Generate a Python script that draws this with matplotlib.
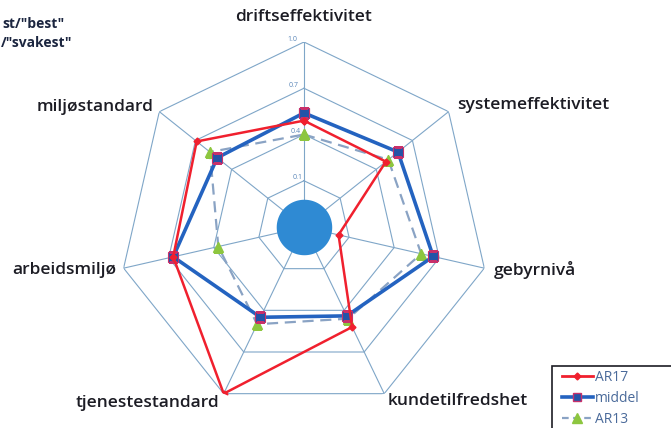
import numpy as np
import matplotlib
matplotlib.use('Agg')
import matplotlib.pyplot as plt
from matplotlib.lines import Line2D
from matplotlib.patches import Rectangle

# -----------------------------
# Data
# -----------------------------
categories = ['driftseffektivitet', 'systemeffektivitet', 'gebyrnivå',
              'kundetilfredshet', 'tjenestestandard', 'arbeidsmiljø',
              'miljøstandard']
ar17 = [0.49, 0.48, 0.03, 0.52, 1.00, 0.67, 0.69]
middel = [0.54, 0.58, 0.66, 0.44, 0.45, 0.67, 0.52]
ar13 = [0.40, 0.50, 0.58, 0.46, 0.50, 0.37, 0.58]
ring_values = [0.1, 0.4, 0.7, 1.0]
ring_labels = ['0.1', '0.4', '0.7', '1.0']
r_min = -0.2

# -----------------------------
# Figure
# -----------------------------
plt.rcParams['font.family'] = ['Open Sans', 'DejaVu Sans']
fig = plt.figure(figsize=(6.71, 4.28), dpi=100)
ax = fig.add_axes([0.1773, 0.0374, 0.5514, 0.8645], projection='polar')
ax.set_theta_zero_location('N')
ax.set_theta_direction(-1)
ax.set_ylim(r_min, 1.0)
ax.grid(False)
ax.spines['polar'].set_visible(False)
ax.set_xticks([])
ax.set_yticks([])
ax.patch.set_alpha(0)

n = len(categories)
angles = np.linspace(0, 2 * np.pi, n, endpoint=False)
closed = np.append(angles, angles[0])

grid_col = '#7fa6c8'
for rv in ring_values:
    ax.plot(closed, [rv] * (n + 1), color=grid_col, lw=0.8, zorder=1)
for a in angles:
    ax.plot([a, a], [r_min, 1.0], color=grid_col, lw=0.8, zorder=1)

for rv, lab in zip(ring_values, ring_labels):
    ax.text(-0.035, rv + 0.02, lab, fontsize=5, color='#5a86b8',
            ha='right', va='center')

# center disc
th = np.linspace(0, 2 * np.pi, 200)
ax.fill_between(th, r_min, -0.02, color='#2f8ad3', zorder=2, lw=0)


def close(v):
    return list(v) + [v[0]]


ax.plot(closed, close(ar13), color='#8aa3c4', lw=1.6, ls=(0, (5, 3)),
        marker='^', markersize=7, markerfacecolor='#8dc63f',
        markeredgecolor='#8dc63f', zorder=3)
ax.plot(closed, close(middel), color='#2463c0', lw=2.6,
        marker='s', markersize=6.5, markerfacecolor='#2354a8',
        markeredgecolor='#c8306a', markeredgewidth=0.8, zorder=4)
ax.plot(closed, close(ar17), color='#f0202e', lw=1.8,
        marker='D', markersize=3.5, markerfacecolor='#f0202e',
        markeredgecolor='#f0202e', zorder=5)

# category labels
label_r = [1.16, 1.07, 1.06, 1.055, 1.07, 1.05, 1.05]
label_ha = ['center', 'left', 'left', 'left', 'right', 'right', 'right']
for a, lab, rr, ha in zip(angles, categories, label_r, label_ha):
    ax.text(a, rr, lab, fontsize=12.5, fontweight='semibold', color='#1c1c24',
            ha=ha, va='center')

# cut-off text at top left
fig.text(0.003, 0.945, 'st/"best"', fontsize=10, fontweight='bold',
         color='#1c2640', ha='left', va='center')
fig.text(0.001, 0.9, '/"svakest"', fontsize=10, fontweight='bold',
         color='#1c2640', ha='left', va='center')

# legend (frame runs past the figure edge like the reference)
fig.patches.append(Rectangle((552 / 671, -0.05), 0.25, 1 - 366 / 428 + 0.05,
                             transform=fig.transFigure, fill=False,
                             edgecolor='#1c1c24', lw=1.2))
handles = [
    Line2D([], [], color='#f0202e', lw=2.0, marker='D', markersize=3.5,
           markerfacecolor='#f0202e'),
    Line2D([], [], color='#2463c0', lw=2.6, marker='s', markersize=6,
           markerfacecolor='#2354a8', markeredgecolor='#c8306a'),
    Line2D([], [], color='#8aa3c4', lw=1.6, ls=(0, (3, 2)), marker='^',
           markersize=7, markerfacecolor='#8dc63f', markeredgecolor='#8dc63f'),
]
leg = fig.legend(handles, ['AR17', 'middel', 'AR13'], loc='upper left',
                 bbox_to_anchor=(562 / 671, 1 - 370 / 428), frameon=False,
                 fontsize=10, handlelength=2.2, handletextpad=0.15,
                 labelspacing=0.42, borderpad=0, borderaxespad=0)
for t in leg.get_texts():
    t.set_color('#4a6a9a')

fig.savefig('out.png', dpi=100)
